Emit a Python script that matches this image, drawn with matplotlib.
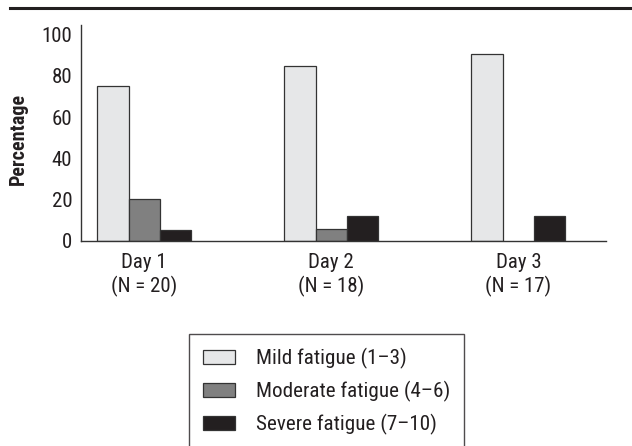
import matplotlib
matplotlib.use("Agg")
import matplotlib.pyplot as plt
import numpy as np
from matplotlib.lines import Line2D

plt.rcParams['font.family'] = ['Roboto Condensed', 'Archivo Narrow', 'DejaVu Sans']

categories = ["Day 1\n(N = 20)", "Day 2\n(N = 18)", "Day 3\n(N = 17)"]
series_names = ["Mild fatigue (1\u20133)", "Moderate fatigue (4\u20136)", "Severe fatigue (7\u201310)"]
mild = [75, 85, 90.5]
moderate = [20, 5.5, 0]
severe = [5, 12, 12]
yticks = [0, 20, 40, 60, 80, 100]

colors = ["#e6e7e8", "#808080", "#231f20"]

fig = plt.figure(figsize=(6.32, 4.46), dpi=100)
ax = fig.add_axes([0.1277, 0.4603, 0.9589 - 0.1277, 0.944 - 0.4603])

x = np.arange(len(categories))
w = 0.1675
for i, (vals, c) in enumerate(zip([mild, moderate, severe], colors)):
    vals = np.array(vals, dtype=float)
    mask = vals > 0
    ax.bar(x[mask] + (i - 1) * w, vals[mask], width=w, color=c,
           edgecolor="#333333", linewidth=0.9, label=series_names[i], zorder=2)

ax.set_xlim(-0.34, 2.469)
ax.set_ylim(0, 104.7)
ax.set_yticks(yticks)
ax.set_yticklabels([str(v) for v in yticks])
ax.set_xticks(x)
ax.set_xticklabels(categories, linespacing=1.2)
ax.tick_params(axis='both', length=0, labelsize=15, colors="#231f20")
ax.tick_params(axis='y', pad=6)
ax.tick_params(axis='x', pad=9)
for s in ["top", "right"]:
    ax.spines[s].set_visible(False)
for s in ["left", "bottom"]:
    ax.spines[s].set_color("#333333")
    ax.spines[s].set_linewidth(1.0)
    ax.spines[s].set_zorder(3)

ax.set_ylabel("Percentage", fontsize=14.5, fontweight="bold", color="#231f20", va="center")
ax.yaxis.set_label_coords(-0.119, 0.474)

# top rule
fig.add_artist(Line2D([10 / 632, 1.0], [1 - 8 / 446, 1 - 8 / 446], transform=fig.transFigure,
                      color="#231f20", linewidth=2.2))

handles, labels = ax.get_legend_handles_labels()
leg = fig.legend(handles, labels, loc="upper left", bbox_to_anchor=(189 / 632, 1 - 334 / 446),
                 fontsize=15.2, frameon=True, fancybox=False, edgecolor="#231f20",
                 handlelength=1.52, handleheight=0.62, handletextpad=0.95,
                 labelspacing=0.55, borderpad=0.68, borderaxespad=0)
leg.get_frame().set_linewidth(1.0)
for t in leg.get_texts():
    t.set_color("#231f20")

fig.savefig("out.png", dpi=100)
